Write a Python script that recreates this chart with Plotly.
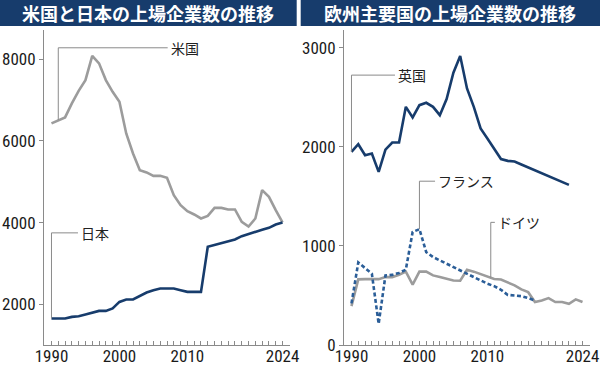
import plotly.graph_objects as go
from plotly.subplots import make_subplots

# ---------------- data ----------------
years = list(range(1990, 2025))
us = [6431, 6512, 6578, 6921, 7230, 7492, 8088, 7902, 7492, 7205,
      6960, 6185, 5695, 5285, 5229, 5146, 5146, 5097, 4672, 4427,
      4280, 4199, 4101, 4165, 4361, 4361, 4322, 4322, 4018, 3905,
      4101, 4795, 4631, 4305, 4003]
japan = [1649, 1649, 1649, 1689, 1706, 1747, 1796, 1836, 1836, 1895,
         2056, 2115, 2115, 2196, 2287, 2343, 2385, 2385, 2385, 2343,
         2302, 2302, 2302, 3405, 3447, 3488, 3528, 3587, 3668, 3724,
         3773, 3823, 3871, 3954, 4003]

uk_years = list(range(1990, 2023))
uk = [1948, 2025, 1914, 1931, 1746, 1971, 2042, 2042, 2402, 2295,
      2419, 2443, 2402, 2318, 2480, 2746, 2914, 2588, 2402, 2184,
      2083, 1975, 1875, 1857, 1850, 1820, 1790, 1760, 1730, 1700,
      1670, 1640, 1615]

fr_years = list(range(1990, 2018))
france = [420, 832, 776, 719, 214, 702, 707, 727, 760, 1140,
          1168, 937, 887, 853, 820, 786, 746, 719, 685, 652,
          618, 594, 557, 505, 500, 493, 473, 449]

de_years = list(range(1990, 2025))
germany = [392, 662, 664, 664, 664, 685, 685, 709, 740, 610,
           740, 740, 702, 685, 668, 651, 648, 758, 740, 717,
           694, 666, 660, 630, 601, 561, 533, 433, 449, 473,
           433, 433, 416, 460, 433]

major_ticks = {1990: "1990", 2000: "2000", 2010: "2010", 2024: "2024"}
tick_vals = years
tick_text = [major_ticks.get(y, "") for y in years]

left_title = "米国と日本の上場企業数の推移"
right_title = "欧州主要国の上場企業数の推移"

# ---------------- style ----------------
NAVY = "#173c6c"
GRAY = "#9c9c9c"
FRBLUE = "#2b5e98"
AXIS = "#8a8a8a"
TICKFONT = dict(family="Roboto Condensed, sans-serif", size=17, color="#1a1a1a")
CJK = "Noto Sans CJK JP"

W, H = 600, 371

fig = make_subplots(rows=1, cols=2)

fig.add_trace(go.Scatter(x=years, y=us, mode="lines", name="米国",
                         line=dict(color=GRAY, width=2.6)), 1, 1)
fig.add_trace(go.Scatter(x=years, y=japan, mode="lines", name="日本",
                         line=dict(color=NAVY, width=2.6)), 1, 1)
fig.add_trace(go.Scatter(x=uk_years, y=uk, mode="lines", name="英国",
                         line=dict(color=NAVY, width=2.6)), 1, 2)
fig.add_trace(go.Scatter(x=de_years, y=germany, mode="lines", name="ドイツ",
                         line=dict(color=GRAY, width=2.6)), 1, 2)
fig.add_trace(go.Scatter(x=fr_years, y=france, mode="lines", name="フランス",
                         line=dict(color=FRBLUE, width=2.6, dash="4px,2.5px")), 1, 2)

xr = [1988.9, 2025.1]
common_x = dict(range=xr, showline=True, linecolor=AXIS, linewidth=1,
                ticks="inside", ticklen=4, tickcolor=AXIS, tickwidth=1,
                tickvals=tick_vals, ticktext=tick_text, tickfont=TICKFONT,
                showgrid=False, zeroline=False, automargin=False,
                ticklabeloverflow="allow", ticklabelstandoff=-4)
common_y = dict(showline=True, linecolor=AXIS, linewidth=1,
                ticks="outside", ticklen=4, tickcolor=AXIS, tickwidth=1,
                tickfont=TICKFONT, showgrid=False, zeroline=False,
                automargin=False, ticklabelstandoff=0, ticklabeloverflow="allow")

ydom = [1 - 345 / H, 1 - 30 / H]
fig.update_layout(
    xaxis=dict(domain=[44 / W, 290 / W], **common_x),
    xaxis2=dict(domain=[344 / W, 590 / W], **common_x),
    yaxis=dict(domain=ydom, range=[1000, 8720], tickvals=[2000, 4000, 6000, 8000], **common_y),
    yaxis2=dict(domain=ydom, range=[0, 3177], tickvals=[0, 1000, 2000, 3000], **common_y),
)

# ---------------- title banners ----------------
shapes = []
annotations = []
for x0, x1, title in [(0, 296.7, left_title), (300.7, 600, right_title)]:
    shapes.append(dict(type="rect", xref="paper", yref="paper",
                       x0=x0 / W, x1=x1 / W, y0=1 - 26 / H, y1=1,
                       fillcolor=NAVY, line=dict(width=0), layer="below"))
    annotations.append(dict(xref="paper", yref="paper", x=(x0 + x1) / 2 / W, y=1 - 13 / H,
                            text="<b>" + title + "</b>", showarrow=False,
                            xanchor="center", yanchor="middle",
                            font=dict(family=CJK, size=18, color="white")))

# ---------------- leader lines and labels ----------------
LEADER = dict(color=AXIS, width=1)
labels = [
    # (xref, yref, anchor_x, anchor_y, top_y, end_x, text)
    ("x", "y", 1991, us[1], 8284, 2007.1, "米国"),
    ("x", "y", 1990, japan[0], 3748, 1993.9, "日本"),
    ("x2", "y2", 1990, uk[0], 2722, 1996.4, "英国"),
    ("x2", "y2", 2000, france[10], 1652, 2002.3, "フランス"),
    ("x2", "y2", 2010.5, (germany[20] + germany[21]) / 2, 1237, 2011.1, "ドイツ"),
]
for xref, yref, ax, ay, ty, ex, txt in labels:
    shapes.append(dict(type="path", xref=xref, yref=yref,
                       path=f"M {ax},{ay} L {ax},{ty} L {ex},{ty}",
                       line=LEADER))
    annotations.append(dict(xref=xref, yref=yref, x=ex, y=ty, text=txt,
                            showarrow=False, xanchor="left", yanchor="middle",
                            xshift=1,
                            font=dict(family=CJK, size=14, color="#222222")))

fig.update_layout(
    width=W, height=H,
    margin=dict(l=0, r=0, t=0, b=0),
    paper_bgcolor="white", plot_bgcolor="white",
    showlegend=False, shapes=shapes, annotations=annotations,
    hovermode=False,
)

fig.write_html("out.html", config={"displayModeBar": False},
               post_script="document.body.style.margin='0';document.body.style.overflow='hidden';")
